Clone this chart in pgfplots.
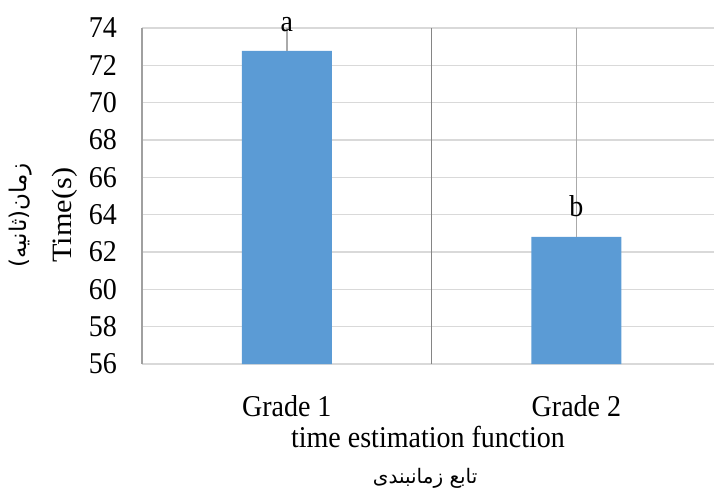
\documentclass[border=0pt]{standalone}
\usepackage{pgfplots}
\pgfplotsset{compat=1.18}
\usepackage{fontspec}
\setmainfont{Liberation Serif}
\newfontfamily\arabicfont[Script=Arabic]{DejaVu Sans}
\TeXXeTstate=1
\definecolor{barblue}{HTML}{5B9BD5}
\definecolor{gridgray}{HTML}{D9D9D9}
\definecolor{axgray}{HTML}{A0A0A0}
\definecolor{sepgray}{HTML}{858585}
\definecolor{errgray}{HTML}{AAAAAA}
\newcommand\fs{\fontsize{28bp}{33bp}\selectfont}
\begin{document}
\begin{tikzpicture}
\useasboundingbox (-142bp,-131bp) rectangle (572bp,364bp);
\begin{axis}[
  at={(0,0)}, anchor=south west,
  scale only axis, width=572bp, height=336bp,
  xmin=-0.5, xmax=1.475, ymin=56, ymax=74,
  ytick={56,58,...,74},
  xtick={0,1}, xticklabels={Grade 1, Grade 2},
  ymajorgrids,
  grid style={color=gridgray, line width=1.5bp},
  axis line style={draw=none},
  major tick length=0pt,
  tick style={draw=none},
  /pgf/number format/assume math mode=true,
  ticklabel style={font=\fs, inner sep=0pt, yscale=1.08},
  yticklabel style={anchor=east, xshift=-25bp},
  xticklabel style={anchor=base, yshift=-49bp},
  clip=false,
  ybar, bar width=90bp,
]
\addplot[fill=barblue, draw=none,
  error bars/.cd, y dir=plus, y explicit, error mark=none,
  error bar style={line width=1.5bp, color=errgray}]
  coordinates {(0,72.77) +- (0,1.23) (1,62.81) +- (0,11.19)};
\draw[axgray, line width=1.5bp] (axis cs:-0.5,56) -- (axis cs:-0.5,74);
\draw[sepgray, line width=1.5bp] (axis cs:0.5,56) -- (axis cs:0.5,74);
\node[anchor=base, font=\fs, inner sep=0pt, yscale=1.08] at (axis cs:0,73.79) {a};
\node[anchor=base, font=\fs, inner sep=0pt, yscale=1.08] at (axis cs:1,63.88) {b};
\node[anchor=base, font=\fs, inner sep=0pt, yscale=1.08] at ([yshift=-83bp]rel axis cs:0.5,0) {time estimation function};
\node[anchor=base, inner sep=0pt, font=\fontsize{20bp}{24bp}\selectfont] at ([yshift=-119bp]rel axis cs:0.495,0) {\arabicfont\beginR تابع زمانبندی\endR};
\node[rotate=90, font=\fs, inner sep=0pt, xscale=1.08] at ([xshift=-77bp]rel axis cs:0,0.443) {Time(s)};
\node[rotate=90, inner sep=0pt, font=\fontsize{23bp}{27bp}\selectfont] at ([xshift=-121bp]rel axis cs:0,0.443) {\arabicfont\beginR زمان(ثانیه)\endR};
\end{axis}
\end{tikzpicture}
\end{document}
